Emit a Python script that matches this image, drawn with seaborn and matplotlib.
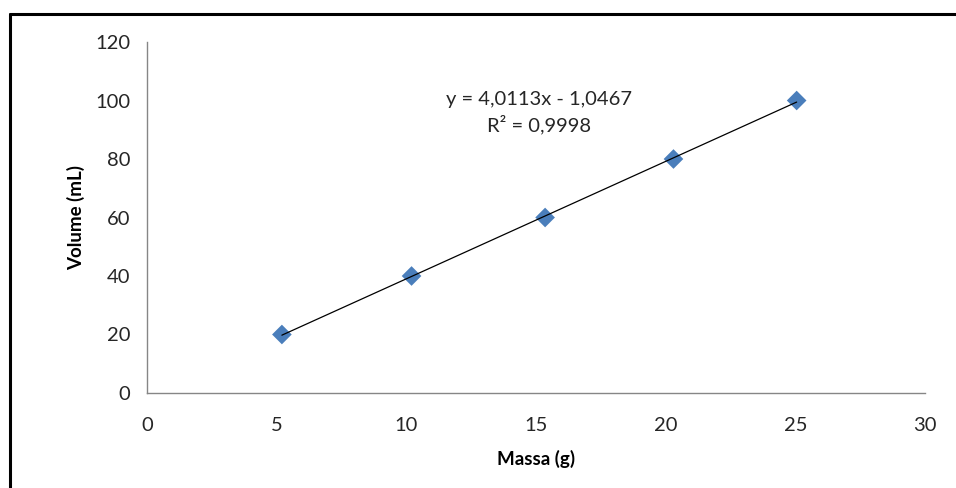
import matplotlib
matplotlib.use("Agg")
import matplotlib.pyplot as plt
import seaborn as sns
import numpy as np
import pandas as pd
from matplotlib.lines import Line2D

massa = [5.2, 10.2, 15.35, 20.3, 25.05]
volume = [20, 40, 60, 80, 100]
x_ticks = [0, 5, 10, 15, 20, 25, 30]
y_ticks = [0, 20, 40, 60, 80, 100, 120]
equation_text = "y = 4,0113x - 1,0467\nR² = 0,9998"

df = pd.DataFrame({"Massa (g)": massa, "Volume (mL)": volume})

sns.set_theme(style="white")
plt.rcParams['font.family'] = ['Lato', 'DejaVu Sans']

fig = plt.figure(figsize=(9.56, 4.88), dpi=100)
ax = fig.add_axes([0.1538, 0.1947, 0.9676 - 0.1538, 0.9139 - 0.1947])

sns.regplot(data=df, x="Massa (g)", y="Volume (mL)", ax=ax, ci=None,
            marker="D",
            scatter_kws=dict(s=100, color="#4A7EBB", alpha=1, edgecolor="none", zorder=2),
            line_kws=dict(color="black", lw=0.9, zorder=3))

ax.set_xlim(0, 30)
ax.set_ylim(0, 120)
ax.set_xticks(x_ticks)
ax.set_yticks(y_ticks)
ax.set_xticklabels([str(t) for t in x_ticks])
ax.set_yticklabels([str(t) for t in y_ticks])

for s in ["top", "right"]:
    ax.spines[s].set_visible(False)
for s in ["left", "bottom"]:
    ax.spines[s].set_color("#868686")
    ax.spines[s].set_linewidth(1.0)
ax.tick_params(axis="both", direction="out", length=5, width=1.0,
               color="#868686", labelsize=14.5, labelcolor="#262626")
ax.tick_params(axis="x", pad=12)
ax.tick_params(axis="y", pad=7)

ax.set_xlabel("Massa (g)", fontsize=13.5, fontweight="bold", color="black", labelpad=12)
ax.set_ylabel("Volume (mL)", fontsize=13.5, fontweight="bold", color="black", labelpad=7)

ax.text(15.1, 95.8, equation_text, ha="center", va="center", multialignment="center",
        fontsize=14.5, color="#262626", linespacing=1.45)

# outer frame (left and top visible in the reference)
fig.add_artist(Line2D([9.5 / 956, 9.5 / 956], [0, 1 - 13.5 / 488], transform=fig.transFigure,
                      color="black", lw=2.2))
fig.add_artist(Line2D([9.5 / 956, 1], [1 - 13.5 / 488, 1 - 13.5 / 488], transform=fig.transFigure,
                      color="black", lw=2.2))

fig.savefig("out.png", dpi=100)
